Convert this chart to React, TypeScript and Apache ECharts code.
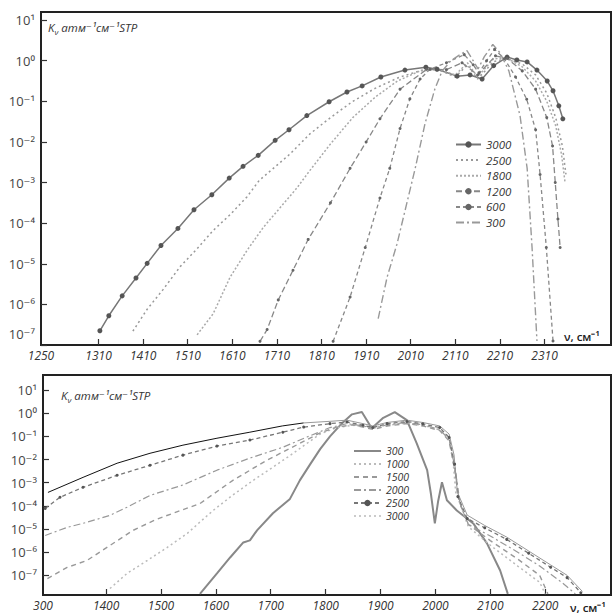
import React, { useEffect, useRef } from "react";
import * as echarts from "echarts";

// ---------- TOP PANEL DATA: [wavenumber cm^-1, log10 K] ----------
const TOP_NAMES = ["3000", "2500", "1800", "1200", "600", "300"];
const TOP_3000 = [[1313,-6.65],[1333,-6.28],[1363,-5.79],[1394,-5.35],[1419,-4.99],[1450,-4.55],[1488,-4.13],[1524,-3.67],[1564,-3.30],[1603,-2.89],[1634,-2.60],[1668,-2.33],[1706,-1.96],[1737,-1.70],[1777,-1.35],[1827,-1.01],[1867,-0.77],[1901,-0.62],[1943,-0.40],[1997,-0.23],[2044,-0.16],[2069,-0.21],[2114,-0.38],[2143,-0.35],[2170,-0.45],[2196,-0.12],[2226,0.09],[2248,0.02],[2271,-0.03],[2293,-0.23],[2316,-0.50],[2329,-0.74],[2342,-1.11],[2351,-1.43]];
const TOP_2500 = [[1387,-6.66],[1419,-6.12],[1455,-5.63],[1493,-5.07],[1531,-4.63],[1567,-4.18],[1605,-3.79],[1643,-3.35],[1670,-2.95],[1739,-2.30],[1784,-1.80],[1830,-1.40],[1880,-1.00],[1930,-0.68],[1986,-0.40],[2042,-0.21],[2076,-0.24],[2110,-0.40],[2137,-0.10],[2160,-0.45],[2196,-0.02],[2226,0.05],[2260,-0.08],[2290,-0.35],[2315,-0.80],[2335,-1.40],[2350,-2.10],[2358,-2.80]];
const TOP_1800 = [[1531,-6.75],[1567,-6.23],[1605,-5.33],[1643,-4.67],[1679,-4.11],[1717,-3.62],[1755,-3.13],[1784,-2.70],[1830,-2.05],[1880,-1.40],[1930,-0.90],[1980,-0.50],[2031,-0.25],[2076,-0.22],[2110,-0.35],[2137,-0.05],[2160,-0.40],[2196,0.05],[2226,0.06],[2260,-0.15],[2290,-0.50],[2315,-1.00],[2335,-1.60],[2348,-2.30],[2356,-3.00]];
const TOP_1200 = [[1672,-6.91],[1688,-6.62],[1713,-5.89],[1746,-5.16],[1780,-4.40],[1830,-3.50],[1874,-2.65],[1910,-2.00],[1941,-1.43],[1986,-0.70],[2046,-0.21],[2090,-0.22],[2125,-0.05],[2160,-0.35],[2200,0.12],[2226,0.06],[2260,-0.25],[2290,-0.70],[2315,-1.40],[2328,-2.10],[2334,-3.00],[2340,-3.90],[2345,-4.60]];
const TOP_600 = [[1836,-6.91],[1874,-5.82],[1908,-4.60],[1941,-3.38],[1963,-2.65],[1986,-1.67],[2008,-0.94],[2031,-0.45],[2053,-0.21],[2090,-0.05],[2130,0.15],[2150,-0.10],[2163,-0.30],[2180,0.00],[2198,0.28],[2220,0.05],[2245,-0.40],[2270,-0.95],[2290,-1.70],[2300,-2.80],[2314,-4.60],[2329,-6.90]];
const TOP_300 = [[1937,-6.35],[1957,-5.33],[1979,-4.52],[1997,-3.70],[2020,-2.65],[2042,-1.55],[2064,-0.70],[2080,-0.26],[2100,0.00],[2120,0.15],[2136,0.25],[2150,0.00],[2161,-0.20],[2175,0.10],[2194,0.40],[2210,0.20],[2230,-0.25],[2255,-1.35],[2271,-2.65],[2282,-4.60],[2293,-6.90]];
const TOP_X_LABEL_VALUES = [1181, 1310, 1410, 1510, 1610, 1710, 1810, 1910, 2010, 2110, 2210, 2310];
const TOP_X_LABELS = ["1250", "1310", "1410", "1510", "1610", "1710", "1810", "1910", "2010", "2110", "2210", "2310"];
const TOP_X_TICKS = [1310, 1410, 1510, 1610, 1710, 1810, 1910, 2010, 2110, 2210, 2310];

// ---------- BOTTOM PANEL DATA: [wavenumber cm^-1, log10 K] ----------
const BOT_NAMES = ["300", "1000", "1500", "2000", "2500", "3000"];
const BOT_3000 = [[1294,-3.42],[1358,-2.77],[1420,-2.16],[1480,-1.73],[1540,-1.38],[1602,-1.08],[1662,-0.82],[1721,-0.55],[1760,-0.42],[1808,-0.35],[1839,-0.30],[1868,-0.45],[1886,-0.55],[1912,-0.40],[1948,-0.30],[1977,-0.40],[2008,-0.55],[2025,-0.90],[2034,-1.80],[2040,-3.40],[2058,-4.40],[2090,-4.85],[2130,-5.35],[2170,-5.95],[2210,-6.55],[2240,-7.00],[2268,-7.70]];
const BOT_2500 = [[1289,-4.11],[1316,-3.63],[1358,-3.20],[1420,-2.68],[1480,-2.25],[1540,-1.81],[1602,-1.42],[1662,-1.16],[1722,-0.82],[1760,-0.60],[1808,-0.45],[1839,-0.38],[1868,-0.52],[1886,-0.62],[1912,-0.45],[1948,-0.36],[1977,-0.46],[2008,-0.62],[2025,-1.05],[2035,-2.20],[2041,-3.60],[2058,-4.55],[2090,-4.95],[2130,-5.45],[2170,-6.05],[2210,-6.65],[2240,-7.10],[2265,-7.75]];
const BOT_2000 = [[1289,-5.28],[1329,-4.93],[1365,-4.71],[1407,-4.41],[1438,-4.06],[1480,-3.55],[1540,-3.10],[1602,-2.46],[1662,-1.94],[1722,-1.47],[1766,-1.03],[1808,-0.62],[1839,-0.45],[1868,-0.55],[1886,-0.66],[1912,-0.50],[1948,-0.40],[1977,-0.50],[2008,-0.70],[2025,-1.15],[2037,-2.50],[2043,-3.80],[2060,-4.80],[2100,-5.30],[2150,-6.00],[2190,-6.60],[2230,-7.30],[2255,-7.80]];
const BOT_1500 = [[1293,-7.14],[1329,-6.66],[1365,-6.36],[1407,-5.71],[1449,-5.06],[1490,-4.60],[1530,-4.25],[1571,-3.90],[1631,-2.90],[1693,-2.03],[1753,-1.30],[1790,-0.85],[1820,-0.60],[1850,-0.50],[1886,-0.70],[1912,-0.55],[1948,-0.45],[1977,-0.55],[2008,-0.75],[2025,-1.20],[2038,-2.80],[2045,-3.90],[2060,-4.80],[2100,-5.50],[2150,-6.30],[2190,-7.00],[2205,-7.80]];
const BOT_1000 = [[1407,-7.57],[1438,-6.92],[1475,-6.36],[1511,-5.80],[1548,-5.19],[1571,-4.70],[1595,-4.20],[1630,-3.55],[1668,-2.90],[1704,-2.33],[1741,-1.73],[1766,-1.30],[1790,-0.90],[1820,-0.62],[1850,-0.52],[1880,-0.62],[1912,-0.52],[1948,-0.42],[1977,-0.52],[2008,-0.72],[2025,-1.05],[2032,-2.00],[2037,-3.40],[2060,-4.90],[2100,-5.70],[2150,-6.60],[2190,-7.30],[2200,-7.80]];
const BOT_300 = [[1571,-7.80],[1602,-6.92],[1626,-6.23],[1650,-5.58],[1662,-5.49],[1675,-5.06],[1704,-4.32],[1735,-3.70],[1753,-2.90],[1772,-2.20],[1790,-1.55],[1808,-1.00],[1830,-0.43],[1848,-0.05],[1866,0.05],[1884,-0.65],[1905,-0.20],[1926,0.05],[1948,-0.30],[1966,-1.30],[1985,-2.46],[1992,-3.50],[1999,-4.76],[2005,-3.80],[2012,-2.98],[2021,-3.76],[2039,-4.20],[2069,-4.76],[2094,-5.62],[2118,-6.79],[2132,-7.80]];
const BOT_X_LABEL_VALUES = [1285, 1400, 1500, 1600, 1700, 1800, 1900, 2000, 2100, 2200];
const BOT_X_LABELS = ["300", "1400", "1500", "1600", "1700", "1800", "1900", "2000", "2100", "2200"];
const BOT_X_TICKS = [1400, 1500, 1600, 1700, 1800, 1900, 2000, 2100, 2200];
// the 3000 K curve is drawn black in the far wing and grey where it joins the band
const BOT_3000_SPLIT = 1760;

const SUP: Record<string, string> = { "-": "⁻", "0": "⁰", "1": "¹", "2": "²", "3": "³", "4": "⁴", "5": "⁵", "6": "⁶", "7": "⁷", "8": "⁸", "9": "⁹" };
const expOf = (v: number) => Math.round(Math.log10(v));
const pow10Text = (v: number) => "10" + String(expOf(v)).split("").map((c) => SUP[c]).join("");

const FONT = '"Open Sans", "DejaVu Sans", sans-serif';
const HIDDEN_MARK = { color: "rgba(0,0,0,0)", borderColor: "rgba(0,0,0,0)", borderWidth: 0 };

type Sty = { color: string; width: number; dash?: any; symbol?: string; symbolSize?: number; symColor?: string };

function mk(name: string, pts: number[][], s: Sty) {
  return {
    name,
    type: "line",
    data: pts.map(([x, e]) => [x, Math.pow(10, e)]),
    symbol: s.symbol || "none",
    showSymbol: !!s.symbol,
    symbolSize: s.symbolSize || 4,
    itemStyle: { color: s.symColor || s.color },
    lineStyle: { color: s.color, width: s.width, type: s.dash || "solid" },
    emphasis: { disabled: true },
    clip: true,
  };
}

function xAxisOf(min: number, max: number, labVals: number[], labs: string[], ticks: number[]) {
  return {
    type: "value",
    min,
    max,
    axisLine: { show: false },
    splitLine: { show: false },
    axisTick: { show: true, inside: true, length: 6, customValues: ticks, lineStyle: { color: "#333", width: 1.2 } },
    axisLabel: {
      customValues: labVals,
      formatter: (v: number) => {
        const i = labVals.findIndex((t) => Math.abs(t - v) < 0.5);
        return i >= 0 ? labs[i] : "";
      },
      margin: 4,
      color: "#333",
      fontFamily: FONT,
      fontStyle: "italic",
      fontSize: 12,
    },
  };
}

function titleGraphic(x: number, y: number) {
  return {
    type: "text",
    x,
    y,
    style: {
      text: "{a|K}{s|ν}{a| атм⁻¹см⁻¹STP}",
      rich: {
        a: { fontSize: 11.5, fontFamily: FONT, fontStyle: "italic", fill: "#333", lineHeight: 16 },
        s: { fontSize: 8, fontFamily: FONT, fontStyle: "italic", fill: "#333", verticalAlign: "bottom", lineHeight: 16 },
      },
    },
  };
}

function nameGraphic(x: number, y: number) {
  return {
    type: "text",
    x,
    y,
    style: { text: "ν, см⁻¹", fill: "#222", font: '600 11.5px "Open Sans", sans-serif' },
  };
}

function legendItems(names: string[], marked: string[], overrides: Record<string, any> = {}) {
  return names.map((n) => {
    const item: any = { name: n };
    if (!marked.includes(n)) item.itemStyle = HIDDEN_MARK;
    if (overrides[n]) Object.assign(item, overrides[n]);
    return item;
  });
}

function topOption() {
  const series = [
    mk("3000", TOP_3000, { color: "#777", width: 1.5, symbol: "circle", symbolSize: 5, symColor: "#555" }),
    mk("2500", TOP_2500, { color: "#999", width: 1.5, dash: [2, 3] }),
    mk("1800", TOP_1800, { color: "#aaa", width: 1.5, dash: [2, 2] }),
    mk("1200", TOP_1200, { color: "#888", width: 1.3, dash: [6, 3], symbol: "circle", symbolSize: 3, symColor: "#666" }),
    mk("600", TOP_600, { color: "#888", width: 1.3, dash: [4, 3], symbol: "circle", symbolSize: 3, symColor: "#666" }),
    mk("300", TOP_300, { color: "#999", width: 1.4, dash: [8, 3, 2, 3] }),
  ];
  return {
    animation: false,
    backgroundColor: "#fff",
    grid: { left: 41, top: 12, width: 570, height: 333, show: true, borderColor: "#222", borderWidth: 2, backgroundColor: "#fff", outerBoundsMode: "none" },
    xAxis: xAxisOf(1181, 2459, TOP_X_LABEL_VALUES, TOP_X_LABELS, TOP_X_TICKS),
    yAxis: {
      type: "log",
      logBase: 10,
      min: 1e-7,
      max: Math.pow(10, 1.2),
      splitNumber: 10,
      axisLine: { show: false },
      splitLine: { show: false },
      minorTick: { show: false },
      axisTick: { show: true, inside: true, length: 6, lineStyle: { color: "#333", width: 1.2 } },
      axisLabel: {
        showMaxLabel: false,
        margin: 6,
        color: "#444",
        fontFamily: FONT,
        fontSize: 13,
        formatter: (v: number) => (expOf(v) === -7 ? "{lo|" + pow10Text(v) + "}" : pow10Text(v)),
        rich: { lo: { color: "#444", fontFamily: FONT, fontSize: 13, padding: [0, 0, 22, 0] } },
      },
    },
    legend: {
      orient: "vertical",
      left: 450,
      top: 133,
      itemWidth: 25,
      itemHeight: 8,
      itemGap: 2.6,
      data: legendItems(TOP_NAMES, ["3000", "1200", "600"]),
      selectedMode: false,
      textStyle: { fontFamily: FONT, fontStyle: "italic", fontSize: 11.5, color: "#333", lineHeight: 13 },
    },
    graphic: [titleGraphic(48, 19), nameGraphic(564, 330)],
    series,
  };
}

function botOption() {
  const series = [
    mk("300", BOT_300, { color: "#888", width: 2 }),
    mk("1000", BOT_1000, { color: "#bbb", width: 1.5, dash: [2, 3] }),
    mk("1500", BOT_1500, { color: "#999", width: 1.4, dash: [5, 4] }),
    mk("2000", BOT_2000, { color: "#999", width: 1.2, dash: [7, 3, 2, 3] }),
    mk("2500", BOT_2500, { color: "#777", width: 1.3, dash: [4, 3], symbol: "circle", symbolSize: 3, symColor: "#555" }),
    mk("3000", BOT_3000.filter((p) => p[0] <= BOT_3000_SPLIT), { color: "#111", width: 1 }),
    mk("3000", BOT_3000.filter((p) => p[0] >= BOT_3000_SPLIT), { color: "#999", width: 1 }),
  ];
  return {
    animation: false,
    backgroundColor: "#fff",
    grid: { left: 43, top: 10, width: 568, height: 220, show: true, borderColor: "#222", borderWidth: 2, backgroundColor: "#fff", outerBoundsMode: "none" },
    xAxis: xAxisOf(1285, 2320, BOT_X_LABEL_VALUES, BOT_X_LABELS, BOT_X_TICKS),
    yAxis: {
      type: "log",
      logBase: 10,
      min: Math.pow(10, -7.85),
      max: Math.pow(10, 1.65),
      splitNumber: 10,
      axisLine: { show: false },
      splitLine: { show: false },
      minorTick: { show: false },
      axisTick: { show: true, inside: true, length: 6, lineStyle: { color: "#333", width: 1.2 } },
      axisLabel: {
        showMaxLabel: false,
        showMinLabel: false,
        margin: 6,
        color: "#444",
        fontFamily: FONT,
        fontSize: 13,
        formatter: (v: number) => pow10Text(v),
      },
    },
    legend: {
      orient: "vertical",
      left: 348,
      top: 75,
      itemWidth: 27,
      itemHeight: 8,
      itemGap: 1,
      data: legendItems(BOT_NAMES, ["2500"], { "3000": { lineStyle: { color: "#bbb", type: [2, 3], width: 1.5 } } }),
      selectedMode: false,
      textStyle: { fontFamily: FONT, fontStyle: "italic", fontSize: 10.5, color: "#333", lineHeight: 12 },
    },
    graphic: [titleGraphic(61, 22), nameGraphic(570, 236)],
    series,
  };
}

export default function App() {
  const topRef = useRef<HTMLDivElement>(null);
  const botRef = useRef<HTMLDivElement>(null);
  useEffect(() => {
    const a = echarts.init(topRef.current!, null, { renderer: "svg" });
    const b = echarts.init(botRef.current!, null, { renderer: "svg" });
    a.setOption(topOption() as any);
    b.setOption(botOption() as any);
    return () => {
      a.dispose();
      b.dispose();
    };
  }, []);
  return (
    <div style={{ position: "fixed", left: 0, top: 0, width: 614, height: 613, background: "#fff" }}>
      <div ref={topRef} style={{ position: "absolute", left: 0, top: 0, width: 614, height: 365 }} />
      <div ref={botRef} style={{ position: "absolute", left: 0, top: 365, width: 614, height: 248 }} />
    </div>
  );
}
